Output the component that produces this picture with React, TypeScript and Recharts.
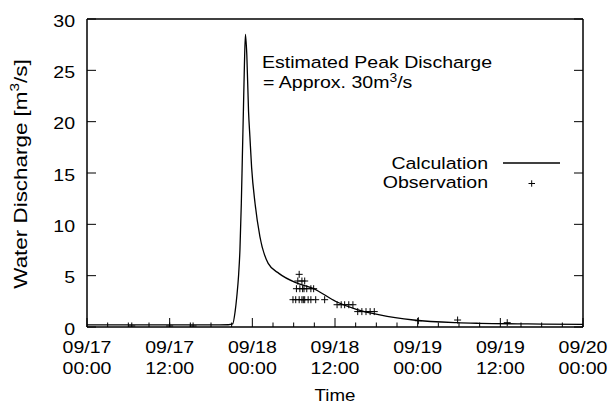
import React from 'react';
import { ComposedChart, Line, Scatter, XAxis, YAxis } from 'recharts';

const FONT = '"Liberation Sans", Arial, Helvetica, sans-serif';

// Calculation series (hours since 09/17 00:00, discharge m3/s)
const calcHours = [0, 6, 12, 18, 20.5, 21.15, 21.5, 21.75, 22.0, 22.2, 22.4, 22.55, 22.7, 22.85, 23.0, 23.2, 23.45, 23.65, 23.9, 24.4, 25.1, 26.3, 27.9, 30.4, 32.8, 36.2, 39.1, 42.5, 47.4, 53.7, 57.0, 64, 72];
const calcValues = [0.2, 0.2, 0.2, 0.2, 0.22, 0.3, 1.5, 3.0, 5.0, 7.5, 12, 16.5, 21, 25.5, 28.5, 26.5, 21, 18.5, 15.5, 12, 8.8, 6.2, 5.2, 4.3, 3.77, 2.46, 1.72, 1.17, 0.68, 0.42, 0.36, 0.3, 0.26];

// Observation series
const obsHours = [6.5, 12.0, 15.4, 30.8, 30.6, 31.2, 31.6, 30.4, 30.9, 31.3, 31.5, 31.9, 32.5, 32.9, 29.9, 30.3, 30.8, 31.2, 31.4, 31.6, 32.1, 32.5, 33.2, 34.5, 36.3, 36.9, 37.4, 38.0, 38.6, 39.3, 39.9, 40.5, 41.1, 41.7, 48.1, 53.8, 61.0];
const obsValues = [0.1, 0.1, 0.1, 5.13, 4.48, 4.48, 4.48, 3.73, 3.73, 3.73, 3.73, 3.73, 3.73, 3.73, 2.66, 2.66, 2.66, 2.66, 2.66, 2.66, 2.66, 2.66, 2.66, 2.66, 2.17, 2.17, 2.17, 2.17, 2.17, 1.5, 1.5, 1.5, 1.5, 1.5, 0.61, 0.68, 0.42];

// Axis ticks
const xTicks = [0, 3, 6, 9, 12, 15, 18, 21, 24, 27, 30, 33, 36, 39, 42, 45, 48, 51, 54, 57, 60, 63, 66, 69, 72];
const xMajorEvery = 12;
const xTickDates = ['09/17', '09/17', '09/18', '09/18', '09/19', '09/19', '09/20'];
const xTickTimes = ['00:00', '12:00', '00:00', '12:00', '00:00', '12:00', '00:00'];
const yTicks = [0, 5, 10, 15, 20, 25, 30];

const calcData = calcHours.map((h, i) => ({ h, v: calcValues[i] }));
const obsData = obsHours.map((h, i) => ({ h, v: obsValues[i] }));

const SX = 1.15;
const FS = 17;

function SText(props: any) {
  const { x, y, anchor = 'start', size = FS, sx = SX, rotate = 0, children } = props;
  const t = rotate
    ? `translate(${x},${y}) rotate(${rotate}) scale(${sx},1)`
    : `translate(${x},${y}) scale(${sx},1)`;
  return (
    <text transform={t} textAnchor={anchor} fontSize={size} fontFamily={FONT} fill="#000">
      {children}
    </text>
  );
}

const BottomTick = (p: any) => {
  const { x, y, payload } = p;
  const v = payload.value;
  const major = v % xMajorEvery === 0;
  const idx = v / xMajorEvery;
  return (
    <g>
      <line x1={x} y1={y} x2={x} y2={y - (major ? 9 : 4.5)} stroke="#000" strokeWidth={1} />
      {major && <SText x={x} y={y + 26} anchor="middle">{xTickDates[idx]}</SText>}
      {major && <SText x={x} y={y + 47} anchor="middle">{xTickTimes[idx]}</SText>}
    </g>
  );
};

const TopTick = (p: any) => {
  const { x, y, payload } = p;
  const major = payload.value % xMajorEvery === 0;
  return <line x1={x} y1={y} x2={x} y2={y + (major ? 9 : 4.5)} stroke="#000" strokeWidth={1} />;
};

const LeftTick = (p: any) => {
  const { x, y, payload } = p;
  return (
    <g>
      <line x1={x} y1={y} x2={x + 9} y2={y} stroke="#000" strokeWidth={1} />
      <SText x={x - 12} y={y + 7.5} anchor="end">{String(payload.value)}</SText>
    </g>
  );
};

const RightTick = (p: any) => {
  const { x, y } = p;
  return <line x1={x} y1={y} x2={x - 9} y2={y} stroke="#000" strokeWidth={1} />;
};

const PlusShape = (p: any) => {
  const { cx, cy } = p;
  const s = 3.5;
  return <path d={`M${cx - s},${cy}H${cx + s}M${cx},${cy - s}V${cy + s}`} stroke="#000" strokeWidth={1} fill="none" />;
};

const axisLine = { stroke: '#000', strokeWidth: 1.5 };

export default function App() {
  return (
    <div style={{ position: 'absolute', left: 0, top: 0, width: 611, height: 405, background: '#fff' }}>
      <ComposedChart width={611} height={405} margin={{ top: 18, right: 27, bottom: 77, left: 0 }}>
        <XAxis
          xAxisId="b"
          dataKey="h"
          type="number"
          domain={[0, 72]}
          ticks={xTicks}
          interval={0}
          orientation="bottom"
          height={1}
          tickSize={0}
          tickMargin={0}
          tickLine={false}
          axisLine={axisLine}
          allowDataOverflow
          tick={(p: any) => <BottomTick {...p} />}
          label={{
            content: (lp: any) => {
              const vb = lp.viewBox || { x: 87, y: 327, width: 496 };
              return (
                <SText x={vb.x + vb.width / 2} y={vb.y + 74} anchor="middle" sx={1.1}>
                  Time
                </SText>
              );
            },
          }}
        />
        <XAxis
          xAxisId="t"
          type="number"
          domain={[0, 72]}
          ticks={xTicks}
          interval={0}
          orientation="top"
          height={1}
          tickSize={0}
          tickMargin={0}
          tickLine={false}
          axisLine={axisLine}
          allowDataOverflow
          tick={(p: any) => <TopTick {...p} />}
        />
        <YAxis
          yAxisId="l"
          type="number"
          domain={[0, 30]}
          ticks={yTicks}
          interval={0}
          orientation="left"
          width={87}
          tickSize={0}
          tickMargin={0}
          tickLine={false}
          axisLine={axisLine}
          allowDataOverflow
          tick={(p: any) => <LeftTick {...p} />}
          label={{
            content: (lp: any) => {
              const vb = lp.viewBox || { x: 0, y: 19, width: 87, height: 308 };
              return (
                <text
                  transform={`translate(27,${vb.y + vb.height / 2 + 1}) rotate(-90) scale(1.18,1)`}
                  textAnchor="middle"
                  fontSize={19}
                  fontFamily={FONT}
                  fill="#000"
                >
                  Water Discharge [m<tspan dy={-8} fontSize={13}>3</tspan>
                  <tspan dy={8}>/s]</tspan>
                </text>
              );
            },
          }}
        />
        <YAxis
          yAxisId="r"
          type="number"
          domain={[0, 30]}
          ticks={yTicks}
          interval={0}
          orientation="right"
          width={1}
          tickSize={0}
          tickMargin={0}
          tickLine={false}
          axisLine={axisLine}
          allowDataOverflow
          tick={(p: any) => <RightTick {...p} />}
        />
        <Line
          xAxisId="b"
          yAxisId="l"
          data={calcData}
          dataKey="v"
          type="monotone"
          stroke="#000"
          strokeWidth={1.3}
          dot={false}
          activeDot={false}
          isAnimationActive={false}
        />
        <Scatter
          xAxisId="b"
          yAxisId="l"
          data={obsData}
          dataKey="v"
          shape={(p: any) => <PlusShape {...p} />}
          isAnimationActive={false}
        />
      </ComposedChart>
      <svg width={611} height={405} style={{ position: 'absolute', left: 0, top: 0, pointerEvents: 'none' }}>
        <SText x={262} y={68}>Estimated Peak Discharge</SText>
        <text transform="translate(263,88) scale(1.15,1)" fontSize={FS} fontFamily={FONT} fill="#000">
          = Approx. 30m<tspan dy={-6} fontSize={12}>3</tspan>
          <tspan dy={6}>/s</tspan>
        </text>
        <SText x={488} y={169} anchor="end">Calculation</SText>
        <line x1={503} y1={163} x2={560} y2={163} stroke="#000" strokeWidth={1.5} />
        <SText x={488} y={188} anchor="end">Observation</SText>
        <path d="M528.5,183.5H535M531.7,180.3V186.7" stroke="#000" strokeWidth={1} />
      </svg>
    </div>
  );
}
